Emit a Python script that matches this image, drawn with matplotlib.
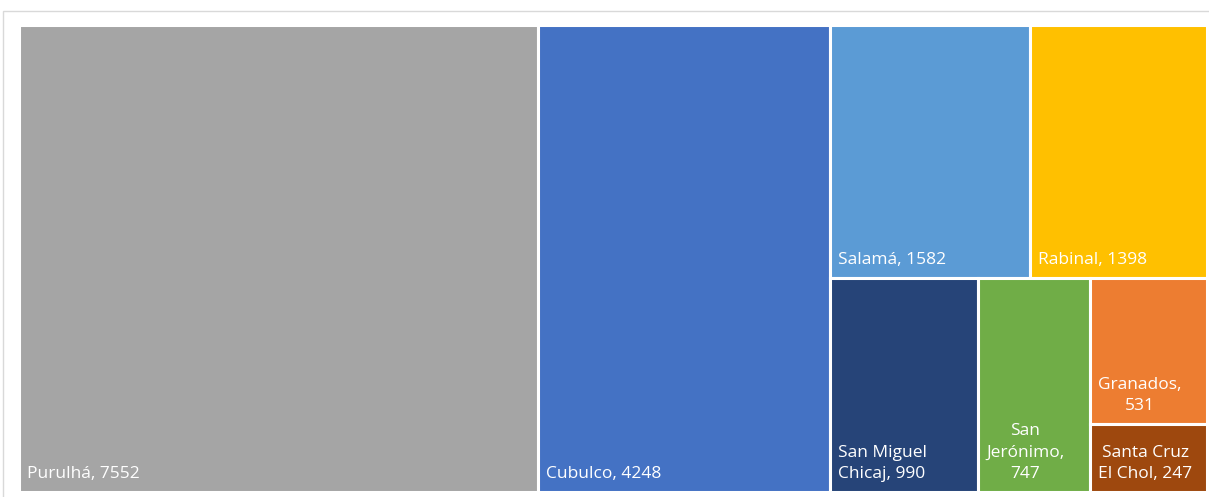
import textwrap
import matplotlib
matplotlib.use('Agg')
import matplotlib.pyplot as plt
from matplotlib.patches import Rectangle

# Datos del treemap
municipios = ['Purulhá', 'Cubulco', 'Salamá', 'Rabinal', 'San Miguel Chicaj',
              'San Jerónimo', 'Granados', 'Santa Cruz El Chol']
valores = [7552, 4248, 1582, 1398, 990, 747, 531, 247]
colores = ['#A5A5A5', '#4472C4', '#5B9BD5', '#FFC000', '#264478',
           '#70AD47', '#ED7D31', '#9E480E']

W, H = 1188.0, 467.0


def peor(fila, lado):
    s = sum(fila)
    return max(max(lado * lado * r / (s * s), s * s / (lado * lado * r))
               for r in fila)


def disponer(areas, x, y, w, h):
    # algoritmo squarify (Bruls et al.)
    rects = []
    areas = list(areas)
    while areas:
        lado = min(w, h)
        fila = [areas.pop(0)]
        while areas and peor(fila + [areas[0]], lado) <= peor(fila, lado):
            fila.append(areas.pop(0))
        s = sum(fila)
        if w >= h:
            ancho = s / h
            yy = y
            for a in fila:
                rects.append((x, yy, ancho, a / ancho))
                yy += a / ancho
            x += ancho
            w -= ancho
        else:
            alto = s / w
            xx = x
            for a in fila:
                rects.append((xx, y, a / alto, alto))
                xx += a / alto
            y += alto
            h -= alto
    return rects


total = sum(valores)
areas = [v / total * W * H for v in valores]
rects = disponer(areas, 0, 0, W, H)

fig = plt.figure(figsize=(12.09, 4.97), dpi=100)
fig.patches.append(Rectangle((3 / 1209, -0.1), 1.2, (497 - 11) / 497 + 0.1,
                             transform=fig.transFigure, fill=False,
                             edgecolor='#D9D9D9', linewidth=1.0))
ax = fig.add_axes([19 / 1209, 5 / 497, W / 1209, H / 497])
ax.set_xlim(0, W)
ax.set_ylim(H, 0)
ax.axis('off')

for (x, y, w, h), nom, val, col in zip(rects, municipios, valores, colores):
    ax.add_patch(Rectangle((x, y), w, h, facecolor=col, edgecolor='white',
                           linewidth=2.2))
    texto = textwrap.fill('{}, {}'.format(nom, val),
                          width=max(int((w - 16) / 8.2), 4))
    ax.text(x + 8, y + h - 10, texto, color='white', fontsize=12.5,
            family='Open Sans', ha='left', va='bottom',
            multialignment='center', linespacing=1.45)

fig.savefig('out.png', dpi=100)
